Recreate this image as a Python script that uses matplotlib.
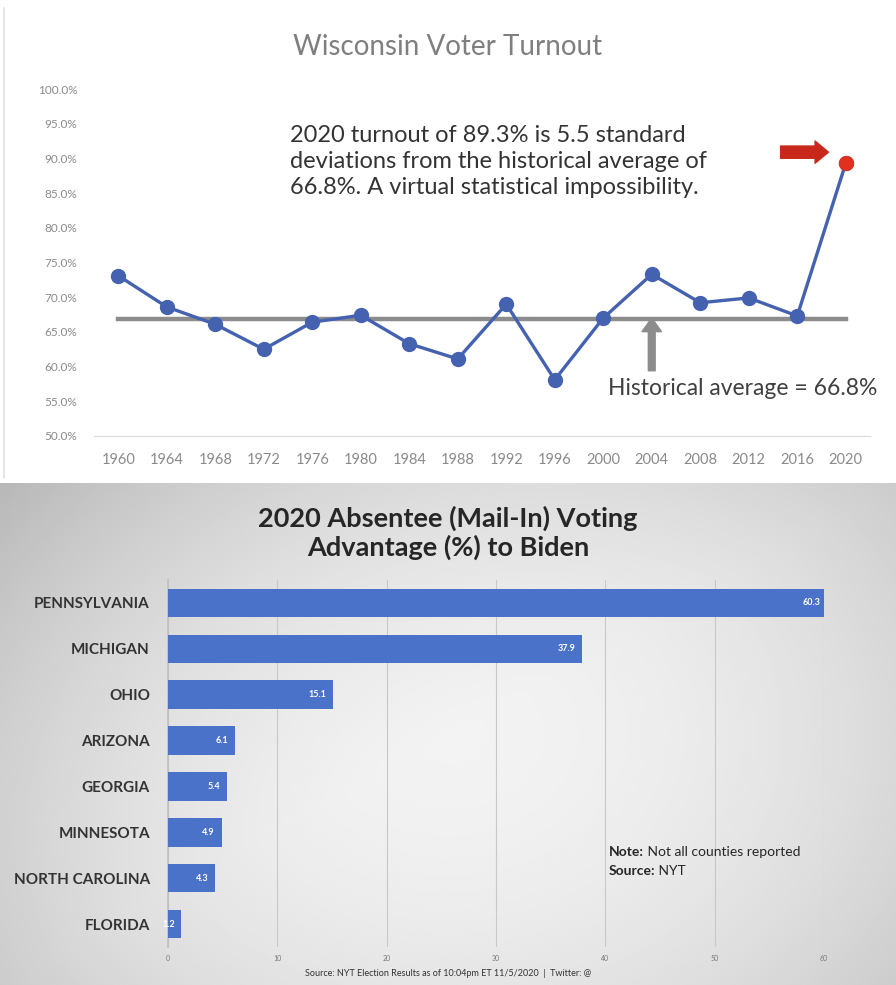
import numpy as np
import matplotlib
matplotlib.use("Agg")
from matplotlib import pyplot as plt
from matplotlib.ticker import FuncFormatter

plt.rcParams['font.family'] = ['Lato', 'DejaVu Sans']

# top chart: Wisconsin turnout
years = [1960, 1964, 1968, 1972, 1976, 1980, 1984, 1988, 1992, 1996,
         2000, 2004, 2008, 2012, 2016, 2020]
turnout = [73.1, 68.6, 66.1, 62.5, 66.4, 67.4, 63.3, 61.1, 69.0, 58.1,
           67.0, 73.3, 69.2, 69.9, 67.3, 89.3]
hist_avg = 66.8

# bottom chart: absentee advantage
states = ["PENNSYLVANIA", "MICHIGAN", "OHIO", "ARIZONA", "GEORGIA",
          "MINNESOTA", "NORTH CAROLINA", "FLORIDA"]
advantage = [60.3, 37.9, 15.1, 6.1, 5.4, 4.9, 4.3, 1.2]
xticks_bot = [0, 10, 20, 30, 40, 50, 60]

W, H = 896, 985
fig = plt.figure(figsize=(W / 100, H / 100), dpi=100)
fig.patch.set_facecolor("white")

# grey gradient backdrop for the lower panel
bg = fig.add_axes([0, 0, 1, 1 - 483 / H], zorder=-10)
gx = np.linspace(-1, 1, 300)
gy = np.linspace(-1, 1, 200)
GX, GY = np.meshgrid(gx, gy)
shade = 0.95 - 0.10 * (GX ** 2) - 0.05 * (GY ** 2) - 0.04 * np.clip(-GX - GY, 0, None)
bg.imshow(shade, cmap="gray", vmin=0, vmax=1, aspect="auto", extent=[0, 1, 0, 1])
bg.set_axis_off()

# thin frame line on the left of the upper panel
fig.add_artist(plt.Line2D([4 / W, 4 / W], [1 - 478 / H, 1 - 8 / H],
                          color="#e0e0e0", lw=1.2))

# ---------------- top chart ----------------
ax = fig.add_axes([94 / W, 1 - 436 / H, 776 / W, 347 / H])
xs = np.arange(len(years))
ax.axhline(hist_avg, xmin=0.5 / 16, xmax=15.5 / 16, color="#8c8c8c", lw=3.2, zorder=1)
ax.plot(xs, turnout, color="#4562b0", lw=2.4, marker="o", ms=10,
        mfc="#4562b0", mec="#4562b0", zorder=3)
ax.plot(xs[-1], turnout[-1], "o", ms=10, color="#e0301e", zorder=4)
ax.set_xlim(-0.5, len(years) - 0.5)
ax.set_ylim(50, 100)
ax.set_yticks(np.arange(50, 101, 5))
ax.yaxis.set_major_formatter(FuncFormatter(lambda v, p: "%.1f%%" % v))
ax.set_xticks(xs)
ax.set_xticklabels([str(y) for y in years])
ax.tick_params(axis="y", length=0, labelsize=8.5, labelcolor="#8a8a8a", pad=12)
ax.tick_params(axis="x", length=0, labelsize=10.5, labelcolor="#8a8a8a", pad=12)
for s in ["top", "right", "left"]:
    ax.spines[s].set_visible(False)
ax.spines["bottom"].set_color("#d9d9d9")
ax.set_facecolor("none")

fig.text(0.5, 1 - 47 / H, "Wisconsin Voter Turnout", ha="center", va="center",
         fontsize=20, color="#7f7f7f")
ax.text(3.55, 89.6, "2020 turnout of 89.3% is 5.5 standard\n"
        "deviations from the historical average of\n"
        "66.8%. A virtual statistical impossibility.",
        ha="left", va="center", fontsize=17, color="#333333", linespacing=1.3)
ax.annotate("", xy=(11, 67.4), xytext=(11, 59.0),
            arrowprops=dict(arrowstyle="simple,head_width=1.0,head_length=0.7,tail_width=0.35",
                            color="#8c8c8c", mutation_scale=14))
ax.text(15.65, 56.8, "Historical average = 66.8%", ha="right", va="center",
        fontsize=16.5, color="#404040")
ax.annotate("", xy=(14.7, 90.9), xytext=(13.6, 90.9),
            arrowprops=dict(arrowstyle="simple,head_width=1.0,head_length=0.6,tail_width=0.55",
                            color="#c8281c", mutation_scale=16))

# ---------------- bottom chart ----------------
bx = fig.add_axes([168 / W, 1 - 947 / H, 656 / W, 367 / H])
ys = np.arange(len(states))
bx.barh(ys, advantage, height=0.62, color="#4a72c8", zorder=3)
for yy, v in zip(ys, advantage):
    bx.text(v - 0.6, yy, "%.1f" % v, ha="right", va="center", fontsize=6.5,
            color="white", fontweight="bold", zorder=4)
bx.set_ylim(len(states) - 0.5, -0.5)
bx.set_xlim(0, 60)
bx.set_xticks(xticks_bot)
bx.set_yticks(ys)
bx.set_yticklabels(states)
bx.tick_params(axis="y", length=0, labelsize=11, pad=13, labelcolor="#333333")
for lab in bx.get_yticklabels():
    lab.set_fontweight("bold")
bx.tick_params(axis="x", length=0, labelsize=5, labelcolor="#777777", pad=6)
bx.grid(axis="x", color="#c8c8c8", lw=0.8, zorder=0)
for s in ["top", "right", "bottom"]:
    bx.spines[s].set_visible(False)
bx.spines["left"].set_color("#bfbfbf")
bx.spines["left"].set_linewidth(1.2)
bx.set_facecolor("none")

fig.text(0.5, 1 - 533 / H, "2020 Absentee (Mail-In) Voting\nAdvantage (%) to Biden",
         ha="center", va="center", fontsize=19.5, fontweight="bold",
         color="#262626", linespacing=1.2)

t1 = bx.text(40.3, 5.42, "Note:", fontsize=10, fontweight="bold",
             color="#262626", va="center")
bx.annotate(" Not all counties reported", xy=(1, 0.5), xycoords=t1,
            va="center", fontsize=10, color="#262626")
t2 = bx.text(40.3, 5.84, "Source:", fontsize=10, fontweight="bold",
             color="#262626", va="center")
bx.annotate(" NYT", xy=(1, 0.5), xycoords=t2, va="center", fontsize=10,
            color="#262626")
fig.text(0.5, 1 - 973 / H,
         "Source: NYT Election Results as of 10:04pm ET 11/5/2020  |  Twitter: @",
         ha="center", va="center", fontsize=6.5, color="#333333")

fig.savefig("out.png", dpi=100)
